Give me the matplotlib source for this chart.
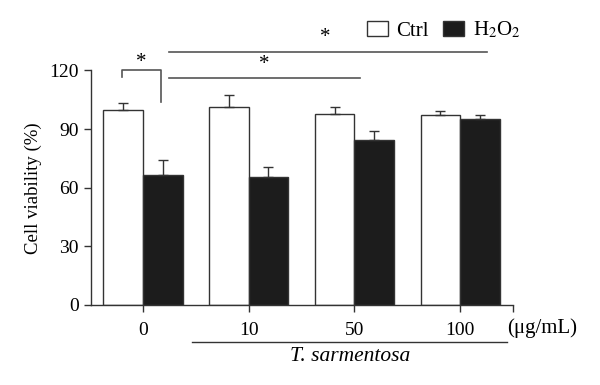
import matplotlib
matplotlib.use("Agg")
import matplotlib.pyplot as plt
import numpy as np
from matplotlib.patches import Patch

# Data
doses = ["0", "10", "50", "100"]
ctrl_mean = [100.0, 101.5, 97.9, 97.1]
ctrl_err = [3.5, 6.0, 3.3, 2.0]
h2o2_mean = [66.7, 65.6, 84.3, 94.9]
h2o2_err = [7.5, 5.0, 4.9, 2.5]
yticks = [0, 30, 60, 90, 120]

plt.rcParams['font.family'] = ['Liberation Serif', 'DejaVu Serif']
plt.rcParams['mathtext.fontset'] = 'stix'

fig = plt.figure(figsize=(6.0, 3.85), dpi=100)
ax = fig.add_axes([0.152, 0.208, 0.703, 0.609])

x = np.arange(len(doses))
w = 0.374
line_c = '#333333'
ax.bar(x - w / 2, ctrl_mean, width=w, color='white', edgecolor=line_c, linewidth=1.0, zorder=2)
ax.bar(x + w / 2, h2o2_mean, width=w, color='#1c1c1c', edgecolor=line_c, linewidth=1.0, zorder=2)
ax.errorbar(x - w / 2, ctrl_mean, yerr=[np.zeros(4), ctrl_err], fmt='none', ecolor=line_c,
            elinewidth=1.0, capsize=3.5, capthick=1.0, zorder=3)
ax.errorbar(x + w / 2, h2o2_mean, yerr=[np.zeros(4), h2o2_err], fmt='none', ecolor=line_c,
            elinewidth=1.0, capsize=3.5, capthick=1.0, zorder=3)

ax.set_xlim(-0.49, 3.5)
ax.set_ylim(0, 120)
ax.set_yticks(yticks)
ax.set_yticklabels([str(t) for t in yticks], fontsize=14)
ax.set_xticks(list(x) + [3.5])
ax.set_xticklabels(doses + [""], fontsize=14)
ax.tick_params(axis='both', direction='out', length=5, width=1.0, color=line_c, pad=4)
ax.tick_params(axis='x', pad=7)
for s in ['top', 'right']:
    ax.spines[s].set_visible(False)
for s in ['left', 'bottom']:
    ax.spines[s].set_linewidth(1.0)
    ax.spines[s].set_color(line_c)

ax.set_ylabel("Cell viability (%)", fontsize=13.5, labelpad=5)

xt = ax.get_xaxis_transform()
# unit label
ax.text(3.44, -0.098, "(μg/mL)", transform=xt, fontsize=15,
        ha='left', va='center', clip_on=False)

# T. sarmentosa line and label
sig_c = '#555555'
ax.plot([0.46, 3.44], [-0.158, -0.158], transform=xt, color=line_c,
        lw=1.0, clip_on=False)
ax.text(1.96, -0.222, "T. sarmentosa", transform=xt, fontsize=15.5,
        style='italic', ha='center', va='center', clip_on=False)

# significance bracket and lines
ax.plot([-0.2, -0.2, 0.17, 0.17], [116.7, 120.2, 120.2, 104.0], color=sig_c, lw=1.2, clip_on=False)
ax.text(-0.015, 119.0, "*", fontsize=15, ha='center', va='bottom', clip_on=False)
ax.plot([0.246, 2.05], [116.3, 116.3], color=sig_c, lw=1.2, clip_on=False)
ax.text(1.15, 118.3, "*", fontsize=15, ha='center', va='bottom', clip_on=False)
ax.plot([0.246, 3.25], [129.5, 129.5], color=sig_c, lw=1.2, clip_on=False)
ax.text(1.72, 131.8, "*", fontsize=15, ha='center', va='bottom', clip_on=False)

# legend
handles = [Patch(facecolor='white', edgecolor=line_c, linewidth=1.0, label='Ctrl'),
           Patch(facecolor='#1c1c1c', edgecolor=line_c, linewidth=1.0, label='H$_2$O$_2$')]
ax.legend(handles=handles, loc='center left', bbox_to_anchor=(2.12, 140.5),
          bbox_transform=ax.transData, ncol=2, frameon=False, fontsize=15,
          handlelength=1.0, handleheight=0.8, handletextpad=0.4, columnspacing=0.7,
          borderpad=0, borderaxespad=0)

fig.savefig("out.png", dpi=100)
